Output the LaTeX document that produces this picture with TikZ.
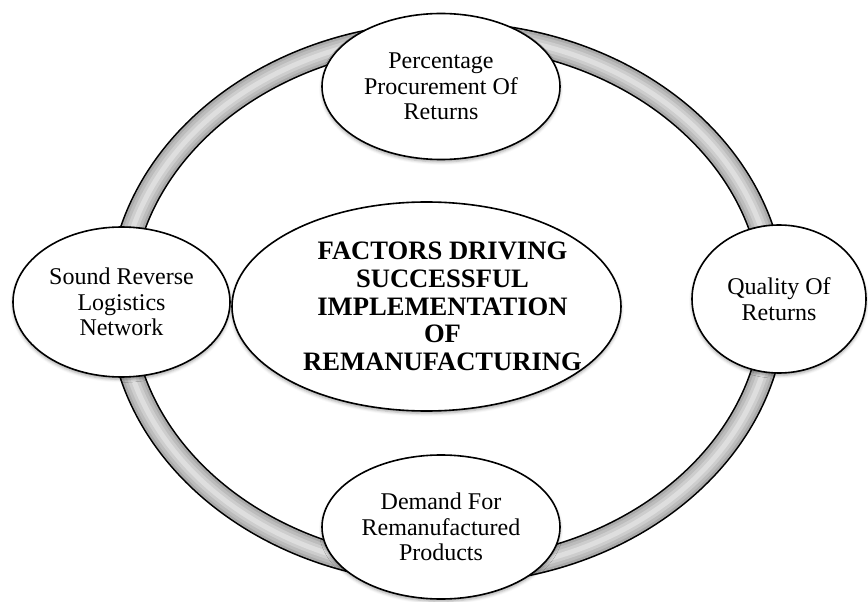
\documentclass[tikz,border=0pt]{standalone}
\usepackage{fontspec}
\setmainfont{Liberation Serif}
\usepackage{xcolor}
\usepackage{tikz}
\usetikzlibrary{shapes.geometric, shadows.blur, positioning}
\definecolor{tubeedge}{RGB}{170,170,170}
\definecolor{tubemid}{RGB}{188,188,188}
\definecolor{tubelight}{RGB}{205,205,205}
\definecolor{tubeshine}{RGB}{222,222,222}

\tikzset{
  factor/.style={ellipse, draw=black, line width=0.8pt, fill=white, inner sep=0pt, align=center,
    font=\fontsize{12}{12.8}\selectfont,
    blur shadow={shadow xshift=0pt, shadow yshift=-1.2pt, shadow blur radius=1.5pt, shadow opacity=35}},
  hubtext/.style={align=center, font=\fontsize{13.3}{13.9}\selectfont\bfseries}
}

\begin{document}
\begin{tikzpicture}[x=0.5pt, y=0.5pt]
\useasboundingbox (0,0) rectangle (868,601);
% the gray tube ring behind the factors
\foreach \w/\c in {12.6pt/black, 11pt/tubeedge, 8.5pt/tubemid, 5.5pt/tubelight, 2.5pt/tubeshine}
  \draw[line width=\w, \c] (447,298) ellipse [x radius=327, y radius=269];
% factors on the ring
\node[factor, minimum width=119pt, minimum height=73pt] (proc) at (441,514.5) {Percentage\\Procurement Of\\Returns};
\node[factor, minimum width=87pt, minimum height=74pt] (qual) at (779,302) {Quality Of\\Returns};
\node[factor, minimum width=119pt, minimum height=72pt] (dem) at (441,74) {Demand For\\Remanufactured\\Products};
\node[factor, minimum width=108.5pt, minimum height=75pt] (net) at (121.5,299) {Sound Reverse\\Logistics\\Network};
% centre
\node[factor, minimum width=194.5pt, minimum height=104.5pt] (hub) at (426.5,294.5) {};
\node[hubtext] (hubt) at ([xshift=8pt]hub.center) {FACTORS DRIVING\\SUCCESSFUL\\IMPLEMENTATION\\OF\\REMANUFACTURING};
\end{tikzpicture}
\end{document}
